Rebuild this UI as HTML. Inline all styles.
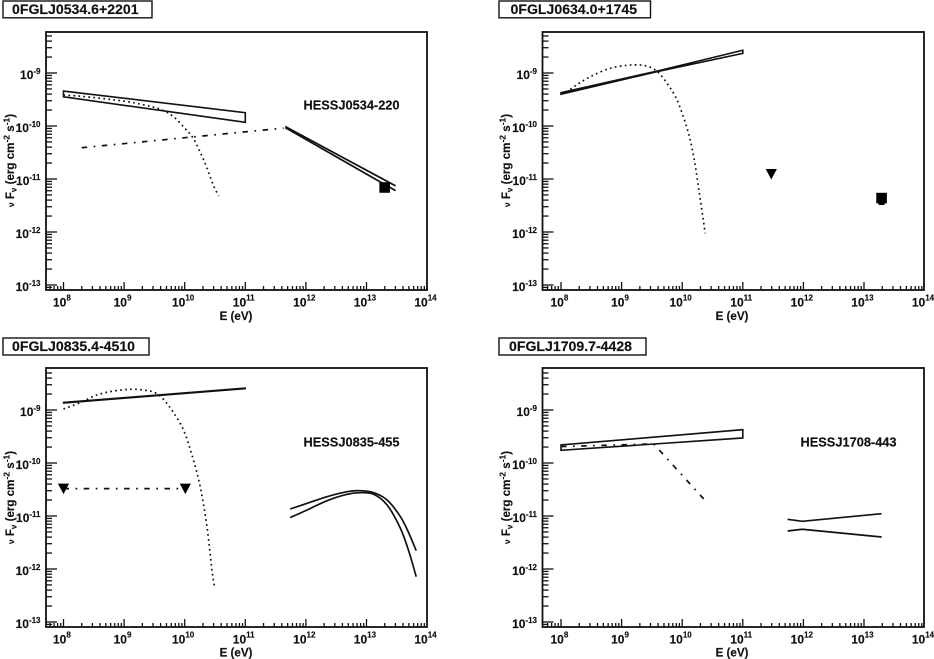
<!DOCTYPE html>
<html lang="en">
<head>
<meta charset="utf-8">
<title>Gamma-ray spectral energy distributions</title>
<style>
html,body{margin:0;padding:0;background:#fff;width:934px;height:659px;overflow:hidden}
svg{display:block;filter:blur(0.3px)}
text{font-family:"Liberation Sans",Arial,sans-serif;font-weight:bold;fill:#111;stroke:#111;stroke-width:0.15}
.title{font-size:14.1px}
.tick{font-size:12px}
.axis{font-size:11.6px}
.src{font-size:12.8px}
</style>
</head>
<body>
<svg id="chart" width="934" height="659" viewBox="0 0 934 659" xmlns="http://www.w3.org/2000/svg">
  <rect x="0" y="0" width="934" height="659" fill="#fff"/>

  <g id="p0">
    <rect x="3" y="1" width="149" height="16.8" fill="#fff" stroke="#111" stroke-width="1.4"/>
    <text class="title" x="12" y="14.2">0FGLJ0534.6+2201</text>
    <text class="src" x="303.5" y="109.5">HESSJ0534-220</text>
    <text class="axis" x="236" y="320" text-anchor="middle">E (eV)</text>
    <text class="axis" transform="translate(14 160.5) rotate(-90)" text-anchor="middle"><tspan font-size="8.5">ν</tspan>  F<tspan dy="2.5" font-size="8">ν</tspan><tspan dy="-2.5"> (erg cm</tspan><tspan dy="-4.5" font-size="8.5">-2</tspan><tspan dy="4.5"> s</tspan><tspan dy="-4.5" font-size="8.5">-1</tspan><tspan dy="4.5">)</tspan></text>
  </g>

  <g id="p1">
    <rect x="499" y="1" width="151.5" height="16.8" fill="#fff" stroke="#111" stroke-width="1.4"/>
    <text class="title" x="510.5" y="14.2">0FGLJ0634.0+1745</text>
    <text class="axis" x="732" y="320" text-anchor="middle">E (eV)</text>
    <text class="axis" transform="translate(510 160.5) rotate(-90)" text-anchor="middle"><tspan font-size="8.5">ν</tspan>  F<tspan dy="2.5" font-size="8">ν</tspan><tspan dy="-2.5"> (erg cm</tspan><tspan dy="-4.5" font-size="8.5">-2</tspan><tspan dy="4.5"> s</tspan><tspan dy="-4.5" font-size="8.5">-1</tspan><tspan dy="4.5">)</tspan></text>
  </g>

  <g id="p2">
    <rect x="3" y="338" width="146" height="17" fill="#fff" stroke="#111" stroke-width="1.4"/>
    <text class="title" x="12" y="351">0FGLJ0835.4-4510</text>
    <text class="src" x="303.5" y="446.5">HESSJ0835-455</text>
    <text class="axis" x="236" y="656.5" text-anchor="middle">E (eV)</text>
    <text class="axis" transform="translate(14 497.5) rotate(-90)" text-anchor="middle"><tspan font-size="8.5">ν</tspan>  F<tspan dy="2.5" font-size="8">ν</tspan><tspan dy="-2.5"> (erg cm</tspan><tspan dy="-4.5" font-size="8.5">-2</tspan><tspan dy="4.5"> s</tspan><tspan dy="-4.5" font-size="8.5">-1</tspan><tspan dy="4.5">)</tspan></text>
  </g>

  <g id="p3">
    <rect x="499" y="338" width="147" height="17" fill="#fff" stroke="#111" stroke-width="1.4"/>
    <text class="title" x="509" y="351">0FGLJ1709.7-4428</text>
    <text class="src" x="800.5" y="446.5">HESSJ1708-443</text>
    <text class="axis" x="732" y="656.5" text-anchor="middle">E (eV)</text>
    <text class="axis" transform="translate(510 497.5) rotate(-90)" text-anchor="middle"><tspan font-size="8.5">ν</tspan>  F<tspan dy="2.5" font-size="8">ν</tspan><tspan dy="-2.5"> (erg cm</tspan><tspan dy="-4.5" font-size="8.5">-2</tspan><tspan dy="4.5"> s</tspan><tspan dy="-4.5" font-size="8.5">-1</tspan><tspan dy="4.5">)</tspan></text>
  </g>
</svg>

<script>
// Axis tick labels (decade exponents)
const xTickExponents = [8, 9, 10, 11, 12, 13, 14];
const yTickExponents = [-9, -10, -11, -12, -13];

// All series values are log10(E / eV) and log10(nuFnu / erg cm^-2 s^-1)

// Panel 0: 0FGLJ0534.6+2201
const crabLatUpperE = [8, 11];
const crabLatUpperF = [-9.34, -9.75];
const crabLatLowerE = [8, 11];
const crabLatLowerF = [-9.45, -9.93];
const crabCurveE = [8.0, 8.30, 8.99, 9.32, 9.59, 9.81, 10.0, 10.14, 10.25, 10.36, 10.47, 10.56];
const crabCurveF = [-9.42, -9.44, -9.53, -9.60, -9.68, -9.82, -10.04, -10.23, -10.48, -10.77, -11.11, -11.32];
const crabIcE = [8.30, 11.63];
const crabIcF = [-10.41, -10.04];
const crabHessUpperE = [11.66, 13.48];
const crabHessUpperF = [-10.01, -11.13];
const crabHessLowerE = [11.66, 13.48];
const crabHessLowerF = [-10.03, -11.22];
const crabSquareE = [13.30];
const crabSquareF = [-11.16];

// Panel 1: 0FGLJ0634.0+1745
const gemingaLatUpperE = [8, 9.6, 11];
const gemingaLatUpperF = [-9.37, -8.96, -8.57];
const gemingaLatLowerE = [8, 9.6, 11];
const gemingaLatLowerF = [-9.40, -8.97, -8.63];
const gemingaCurveE = [8.154, 8.32, 8.54, 8.81, 9.09, 9.31, 9.475, 9.61, 9.75, 9.915, 10.08, 10.19, 10.30, 10.38];
const gemingaCurveF = [-9.308, -9.176, -9.038, -8.912, -8.855, -8.85, -8.893, -8.994, -9.195, -9.51, -10.044, -10.58, -11.40, -12.025];
const gemingaLimitE = [11.47];
const gemingaLimitF = [-10.906];
const gemingaSquareE = [13.29];
const gemingaSquareF = [-11.36];
const gemingaSquareLowF = [-11.49];

// Panel 2: 0FGLJ0835.4-4510
const velaLatUpperE = [8, 11];
const velaLatUpperF = [-8.855, -8.585];
const velaLatLowerE = [8, 11];
const velaLatLowerF = [-8.87, -8.60];
const velaCurveE = [8.0, 8.275, 8.55, 8.826, 9.10, 9.32, 9.51, 9.65, 9.816, 9.98, 10.12, 10.256, 10.367, 10.45, 10.49];
const velaCurveF = [-8.98, -8.862, -8.717, -8.642, -8.61, -8.623, -8.673, -8.80, -9.05, -9.377, -9.85, -10.447, -11.20, -12.02, -12.32];
const velaLimitE = [8, 10.01];
const velaLimitF = [-10.484, -10.484];
const velaHessUpperE = [11.74, 12.02, 12.35, 12.68, 12.90, 13.12, 13.34, 13.56, 13.70, 13.82];
const velaHessUpperF = [-10.868, -10.761, -10.635, -10.541, -10.522, -10.56, -10.698, -11.013, -11.327, -11.654];
const velaHessLowerE = [11.74, 12.02, 12.35, 12.68, 12.90, 13.12, 13.34, 13.56, 13.70, 13.82];
const velaHessLowerF = [-11.03, -10.887, -10.711, -10.591, -10.56, -10.591, -10.792, -11.233, -11.673, -12.145];

// Panel 3: 0FGLJ1709.7-4428
const psrLatUpperE = [8, 11];
const psrLatUpperF = [-9.66, -9.371];
const psrLatLowerE = [8, 11];
const psrLatLowerF = [-9.761, -9.528];
const psrCurveE = [8.0, 9.53, 10.42];
const psrCurveF = [-9.69, -9.64, -10.76];
const psrHessUpperE = [11.74, 11.98, 13.29];
const psrHessUpperF = [-11.063, -11.10, -10.956];
const psrHessLowerE = [11.74, 11.98, 13.29];
const psrHessLowerF = [-11.283, -11.25, -11.396];

const NS = 'http://www.w3.org/2000/svg';
const DECADE_X = 60.6;
const DECADE_Y = 53;
const INK = '#111';

function make(parent, tag, attrs) {
  const node = document.createElementNS(NS, tag);
  for (const key in attrs) node.setAttribute(key, attrs[key]);
  parent.appendChild(node);
  return node;
}

function makeAxes(group, originX, originY, left, right, top, bottom) {
  const xOf = function (v) { return originX + DECADE_X * (v - 8); };
  const yOf = function (v) { return originY + DECADE_Y * (-9 - v); };

  const frame = make(group, 'rect', {x: left, y: top, width: right - left, height: bottom - top, fill: 'none', stroke: INK, 'stroke-width': 1.8});
  
  

  // x axis ticks from 5e7 upward
  for (let d = 7; d < 14; d++) {
    for (let m = 1; m <= 9; m++) {
      const px = xOf(d + Math.log10(m));
      if (px < left + 1 || px > right) continue;
      const len = m === 1 ? 8 : 4;
      const tick = make(group, 'line', {x1: px, x2: px, y1: bottom, y2: bottom - len, stroke: INK, 'stroke-width': 1.3});
      
      
    }
  }
  // y axis ticks
  for (let d = -14; d < -8; d++) {
    for (let m = 1; m <= 9; m++) {
      const py = yOf(d + Math.log10(m));
      if (py < top + 1 || py > bottom - 1) continue;
      const len = m === 1 ? 11 : 6;
      const tick = make(group, 'line', {x1: left, x2: left + len, y1: py, y2: py, stroke: INK, 'stroke-width': 1.3});
      
      
    }
  }
  xTickExponents.forEach(function (exp) {
    const label = make(group, 'text', {class: 'tick', x: xOf(exp) - 1.6, y: bottom + 16.5, 'text-anchor': 'middle'});
    
    
    label.appendChild(document.createTextNode('10'));
    const sup = make(label, 'tspan', {dy: -6, 'font-size': 8});
    sup.textContent = exp;
  });
  yTickExponents.forEach(function (exp) {
    const label = make(group, 'text', {class: 'tick', x: left - 5.5, y: yOf(exp) + 6, 'text-anchor': 'end'});
    
    
    label.appendChild(document.createTextNode('10'));
    const sup = make(label, 'tspan', {dy: -5, 'font-size': 8});
    sup.textContent = exp;
  });
  return {x: xOf, y: yOf};
}

function pts(scale, es, fs) {
  return es.map(function (e, i) { return scale.x(e).toFixed(2) + ',' + scale.y(fs[i]).toFixed(2); });
}

// Straight segments for short series, Catmull-Rom smoothing for sampled curves
function curve(group, scale, es, fs, style) {
  const xs = es.map(scale.x);
  const ys = fs.map(scale.y);
  let d = 'M' + xs[0].toFixed(2) + ' ' + ys[0].toFixed(2);
  for (let i = 1; i < xs.length; i++) {
    if (xs.length <= 3) {
      d += 'L' + xs[i].toFixed(2) + ' ' + ys[i].toFixed(2);
      continue;
    }
    const a = Math.max(i - 2, 0), b = i - 1, c = i, e = Math.min(i + 1, xs.length - 1);
    const c1x = xs[b] + (xs[c] - xs[a]) / 6, c1y = ys[b] + (ys[c] - ys[a]) / 6;
    const c2x = xs[c] - (xs[e] - xs[b]) / 6, c2y = ys[c] - (ys[e] - ys[b]) / 6;
    d += 'C' + c1x.toFixed(2) + ' ' + c1y.toFixed(2) + ' ' + c2x.toFixed(2) + ' ' + c2y.toFixed(2) + ' ' + xs[c].toFixed(2) + ' ' + ys[c].toFixed(2);
  }
  return make(group, 'path', Object.assign({d: d, fill: 'none', stroke: INK}, style));
}

function band(group, scale, ue, uf, le, lf, width) {
  const ring = pts(scale, ue, uf).concat(pts(scale, le, lf).reverse());
  return make(group, 'polygon', {points: ring.join(' '), fill: 'none', stroke: INK, 'stroke-width': width, 'stroke-linejoin': 'miter'});
}

function squares(group, scale, es, fs) {
  es.forEach(function (e, i) {
    const s = make(group, 'rect', {x: scale.x(e) - 5.3, y: scale.y(fs[i]) - 5.3, width: 10.6, height: 10.6, fill: '#000'});
    
    
  });
}

function limits(group, scale, es, fs) {
  es.forEach(function (e, i) {
    const cx = scale.x(e), cy = scale.y(fs[i]);
    const t = make(group, 'polygon', {points: (cx - 5.6) + ',' + (cy - 5) + ' ' + (cx + 5.6) + ',' + (cy - 5) + ' ' + cx + ',' + (cy + 5.5), fill: '#000'});
    
    
  });
}

const DOTTED = {'stroke-width': 1.7, 'stroke-dasharray': '1.7 3.3'};
const DASHDOT = {'stroke-width': 1.7, 'stroke-dasharray': '5.5 6.5 1.7 6.5'};
const SOLID = {'stroke-width': 1.7};

// Panel 0
const g0 = document.getElementById('p0');
const s0 = makeAxes(g0, 63.5, 73, 46, 427, 32, 290);
const b0 = band(g0, s0, crabLatUpperE, crabLatUpperF, crabLatLowerE, crabLatLowerF, 1.6);


const c0 = curve(g0, s0, crabCurveE, crabCurveF, DOTTED);


const d0 = curve(g0, s0, crabIcE, crabIcF, DASHDOT);


const hu0 = curve(g0, s0, crabHessUpperE, crabHessUpperF, SOLID);


const hl0 = curve(g0, s0, crabHessLowerE, crabHessLowerF, SOLID);


squares(g0, s0, crabSquareE, crabSquareF);

// Panel 1
const g1 = document.getElementById('p1');
const s1 = makeAxes(g1, 561, 73, 542.5, 924, 32, 290);
const b1 = band(g1, s1, gemingaLatUpperE, gemingaLatUpperF, gemingaLatLowerE, gemingaLatLowerF, 1.6);


const c1 = curve(g1, s1, gemingaCurveE, gemingaCurveF, DOTTED);


limits(g1, s1, gemingaLimitE, gemingaLimitF);
const err1 = make(g1, 'line', {x1: s1.x(gemingaSquareE[0]), x2: s1.x(gemingaSquareE[0]), y1: s1.y(gemingaSquareF[0]), y2: s1.y(gemingaSquareLowF[0]), stroke: '#000', 'stroke-width': 6});


squares(g1, s1, gemingaSquareE, gemingaSquareF);

// Panel 2
const g2 = document.getElementById('p2');
const s2 = makeAxes(g2, 63.5, 410, 46, 427, 368, 627);
const b2 = band(g2, s2, velaLatUpperE, velaLatUpperF, velaLatLowerE, velaLatLowerF, 1.3);


const c2 = curve(g2, s2, velaCurveE, velaCurveF, DOTTED);


const d2 = curve(g2, s2, velaLimitE, velaLimitF, DASHDOT);


limits(g2, s2, velaLimitE, velaLimitF);
const hu2 = curve(g2, s2, velaHessUpperE, velaHessUpperF, SOLID);


const hl2 = curve(g2, s2, velaHessLowerE, velaHessLowerF, SOLID);



// Panel 3
const g3 = document.getElementById('p3');
const s3 = makeAxes(g3, 561, 410, 542.5, 924, 368, 627);
const b3 = band(g3, s3, psrLatUpperE, psrLatUpperF, psrLatLowerE, psrLatLowerF, 1.6);


const c3 = curve(g3, s3, psrCurveE, psrCurveF, DASHDOT);


const hu3 = curve(g3, s3, psrHessUpperE, psrHessUpperF, SOLID);


const hl3 = curve(g3, s3, psrHessLowerE, psrHessLowerF, SOLID);


</script>
</body>
</html>
